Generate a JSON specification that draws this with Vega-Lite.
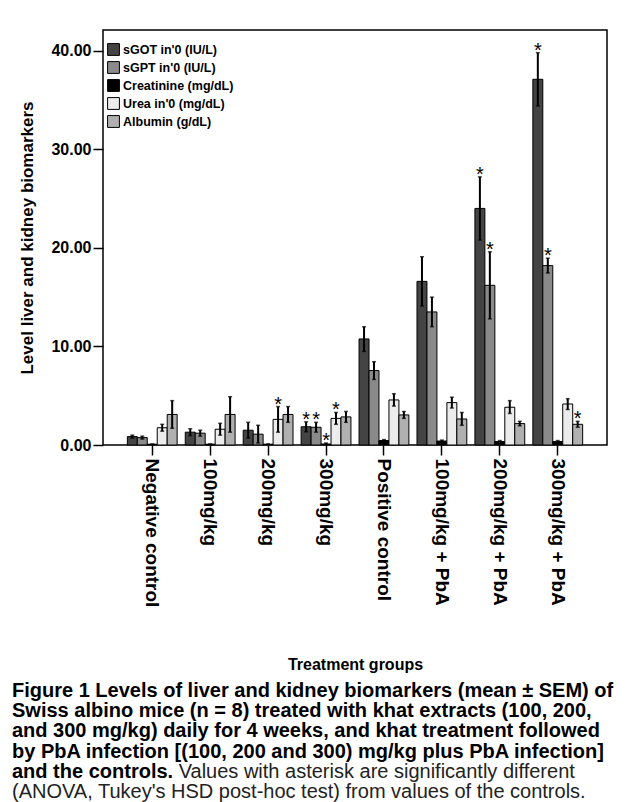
{
  "$schema": "https://vega.github.io/schema/vega-lite/v6.json",
  "width": 504,
  "height": 415,
  "autosize": {"type": "none"},
  "padding": {"left": 103, "top": 30, "right": 22, "bottom": 357},
  "background": "white",
  "config": {
    "view": {"stroke": "black", "strokeWidth": 1.5},
    "font": "Liberation Sans"
  },
  "title": {
    "text": [
      "Figure 1 Levels of liver and kidney biomarkers (mean ± SEM) of",
      "Swiss albino mice (n = 8) treated with khat extracts (100, 200,",
      "and 300 mg/kg) daily for 4 weeks, and khat treatment followed",
      "by PbA infection [(100, 200 and 300) mg/kg plus PbA infection]",
      "and the controls."
    ],
    "subtitle": [
      "\u200b\u00a0\u00a0\u00a0\u00a0\u00a0\u00a0\u00a0\u00a0\u00a0\u00a0\u00a0\u00a0\u00a0\u00a0\u00a0\u00a0\u00a0\u00a0\u00a0\u00a0\u00a0\u00a0\u00a0\u00a0\u00a0\u00a0\u00a0\u00a0\u00a0\u00a0Values with asterisk are significantly different",
      "(ANOVA, Tukey's HSD post-hoc test) from values of the controls."
    ],
    "orient": "bottom",
    "anchor": "start",
    "frame": "group",
    "dx": -91,
    "offset": 8,
    "font": "Liberation Sans",
    "fontSize": 20,
    "fontWeight": "bold",
    "lineHeight": 20.3,
    "color": "black",
    "subtitleFont": "Liberation Sans",
    "subtitleFontSize": 20,
    "subtitleFontWeight": "normal",
    "subtitleLineHeight": 20.3,
    "subtitleColor": "#222222",
    "subtitlePadding": -20
  },
  "data": {
    "values": [
      {"group": "Negative control", "marker": "sGOT in'0 (IU/L)", "v": 0.85, "lo": 0.7, "hi": 1.0, "sig": 0},
      {"group": "Negative control", "marker": "sGPT in'0 (IU/L)", "v": 0.75, "lo": 0.6, "hi": 0.9, "sig": 0},
      {"group": "Negative control", "marker": "Creatinine (mg/dL)", "v": 0.08, "lo": 0.06, "hi": 0.1, "sig": 0},
      {"group": "Negative control", "marker": "Urea in'0 (mg/dL)", "v": 1.75, "lo": 1.4, "hi": 2.1, "sig": 0},
      {"group": "Negative control", "marker": "Albumin (g/dL)", "v": 3.1, "lo": 1.7, "hi": 4.5, "sig": 0},
      {"group": "100mg/kg", "marker": "sGOT in'0 (IU/L)", "v": 1.3, "lo": 0.95, "hi": 1.65, "sig": 0},
      {"group": "100mg/kg", "marker": "sGPT in'0 (IU/L)", "v": 1.2, "lo": 0.9, "hi": 1.5, "sig": 0},
      {"group": "100mg/kg", "marker": "Creatinine (mg/dL)", "v": 0.08, "lo": 0.06, "hi": 0.1, "sig": 0},
      {"group": "100mg/kg", "marker": "Urea in'0 (mg/dL)", "v": 1.6, "lo": 1.0, "hi": 2.2, "sig": 0},
      {"group": "100mg/kg", "marker": "Albumin (g/dL)", "v": 3.1, "lo": 1.3, "hi": 4.9, "sig": 0},
      {"group": "200mg/kg", "marker": "sGOT in'0 (IU/L)", "v": 1.5, "lo": 0.7, "hi": 2.3, "sig": 0},
      {"group": "200mg/kg", "marker": "sGPT in'0 (IU/L)", "v": 1.1, "lo": 0.2, "hi": 2.0, "sig": 0},
      {"group": "200mg/kg", "marker": "Creatinine (mg/dL)", "v": 0.08, "lo": 0.06, "hi": 0.1, "sig": 0},
      {"group": "200mg/kg", "marker": "Urea in'0 (mg/dL)", "v": 2.6, "lo": 1.3, "hi": 3.9, "sig": 1},
      {"group": "200mg/kg", "marker": "Albumin (g/dL)", "v": 3.1, "lo": 2.3, "hi": 3.9, "sig": 0},
      {"group": "300mg/kg", "marker": "sGOT in'0 (IU/L)", "v": 1.85, "lo": 1.35, "hi": 2.35, "sig": 1},
      {"group": "300mg/kg", "marker": "sGPT in'0 (IU/L)", "v": 1.8, "lo": 1.3, "hi": 2.3, "sig": 1},
      {"group": "300mg/kg", "marker": "Creatinine (mg/dL)", "v": 0.1, "lo": 0.05, "hi": 0.2, "sig": 1},
      {"group": "300mg/kg", "marker": "Urea in'0 (mg/dL)", "v": 2.7, "lo": 2.1, "hi": 3.3, "sig": 1},
      {"group": "300mg/kg", "marker": "Albumin (g/dL)", "v": 2.85, "lo": 2.3, "hi": 3.4, "sig": 0},
      {"group": "Positive control", "marker": "sGOT in'0 (IU/L)", "v": 10.76, "lo": 9.5, "hi": 12.0, "sig": 0},
      {"group": "Positive control", "marker": "sGPT in'0 (IU/L)", "v": 7.55, "lo": 6.65, "hi": 8.45, "sig": 0},
      {"group": "Positive control", "marker": "Creatinine (mg/dL)", "v": 0.45, "lo": 0.35, "hi": 0.55, "sig": 0},
      {"group": "Positive control", "marker": "Urea in'0 (mg/dL)", "v": 4.57, "lo": 3.95, "hi": 5.2, "sig": 0},
      {"group": "Positive control", "marker": "Albumin (g/dL)", "v": 3.05, "lo": 2.7, "hi": 3.4, "sig": 0},
      {"group": "100mg/kg + PbA", "marker": "sGOT in'0 (IU/L)", "v": 16.6, "lo": 14.1, "hi": 19.1, "sig": 0},
      {"group": "100mg/kg + PbA", "marker": "sGPT in'0 (IU/L)", "v": 13.5, "lo": 12.0, "hi": 15.0, "sig": 0},
      {"group": "100mg/kg + PbA", "marker": "Creatinine (mg/dL)", "v": 0.4, "lo": 0.3, "hi": 0.5, "sig": 0},
      {"group": "100mg/kg + PbA", "marker": "Urea in'0 (mg/dL)", "v": 4.3, "lo": 3.75, "hi": 4.85, "sig": 0},
      {"group": "100mg/kg + PbA", "marker": "Albumin (g/dL)", "v": 2.64, "lo": 2.0, "hi": 3.3, "sig": 0},
      {"group": "200mg/kg + PbA", "marker": "sGOT in'0 (IU/L)", "v": 24.0, "lo": 20.8, "hi": 27.2, "sig": 1},
      {"group": "200mg/kg + PbA", "marker": "sGPT in'0 (IU/L)", "v": 16.2, "lo": 12.8, "hi": 19.6, "sig": 1},
      {"group": "200mg/kg + PbA", "marker": "Creatinine (mg/dL)", "v": 0.35, "lo": 0.25, "hi": 0.45, "sig": 0},
      {"group": "200mg/kg + PbA", "marker": "Urea in'0 (mg/dL)", "v": 3.83, "lo": 3.2, "hi": 4.5, "sig": 0},
      {"group": "200mg/kg + PbA", "marker": "Albumin (g/dL)", "v": 2.17, "lo": 1.95, "hi": 2.4, "sig": 0},
      {"group": "300mg/kg + PbA", "marker": "sGOT in'0 (IU/L)", "v": 37.1, "lo": 34.4, "hi": 39.8, "sig": 1},
      {"group": "300mg/kg + PbA", "marker": "sGPT in'0 (IU/L)", "v": 18.2, "lo": 17.45, "hi": 18.95, "sig": 1},
      {"group": "300mg/kg + PbA", "marker": "Creatinine (mg/dL)", "v": 0.35, "lo": 0.25, "hi": 0.45, "sig": 0},
      {"group": "300mg/kg + PbA", "marker": "Urea in'0 (mg/dL)", "v": 4.16, "lo": 3.6, "hi": 4.7, "sig": 0},
      {"group": "300mg/kg + PbA", "marker": "Albumin (g/dL)", "v": 2.1, "lo": 1.8, "hi": 2.4, "sig": 1}
    ]
  },
  "encoding": {
    "x": {
      "field": "group",
      "type": "nominal",
      "sort": ["Negative control", "100mg/kg", "200mg/kg", "300mg/kg", "Positive control", "100mg/kg + PbA", "200mg/kg + PbA", "300mg/kg + PbA"],
      "scale": {"paddingInner": 0.14, "paddingOuter": 0.42},
      "axis": {
        "title": "Treatment groups",
        "labelAngle": 90,
        "labelAlign": "left",
        "labelBaseline": "middle",
        "labelFont": "Liberation Sans",
        "labelFontWeight": "bold",
        "labelFontSize": 19,
        "labelColor": "black",
        "labelPadding": 3,
        "tickColor": "black",
        "tickSize": 10,
        "tickWidth": 1.5,
        "domain": false,
        "titleFont": "Liberation Sans",
        "titleFontSize": 16,
        "titleFontWeight": "bold",
        "titleColor": "black",
        "titlePadding": 50
      }
    },
    "xOffset": {
      "field": "marker",
      "type": "nominal",
      "sort": ["sGOT in'0 (IU/L)", "sGPT in'0 (IU/L)", "Creatinine (mg/dL)", "Urea in'0 (mg/dL)", "Albumin (g/dL)"],
      "scale": {"paddingInner": 0, "paddingOuter": 0}
    }
  },
  "layer": [
    {
      "mark": {"type": "bar", "stroke": "black", "strokeWidth": 1},
      "encoding": {
        "y": {
          "field": "v",
          "type": "quantitative",
          "scale": {"domain": [0, 42.1], "nice": false, "zero": true},
          "axis": {
            "title": "Level liver and kidney biomarkers",
            "values": [0, 10, 20, 30, 40],
            "format": ".2f",
            "grid": false,
            "domain": false,
            "tickColor": "black",
            "tickSize": 10,
            "tickWidth": 1.5,
            "labelFont": "Liberation Sans",
            "labelFontWeight": "bold",
            "labelFontSize": 16,
            "labelColor": "black",
            "labelPadding": 2,
            "titleFont": "Liberation Sans",
            "titleFontSize": 17,
            "titleFontWeight": "bold",
            "titleColor": "black",
            "titlePadding": 14
          }
        },
        "fill": {
          "field": "marker",
          "type": "nominal",
          "scale": {
            "domain": ["sGOT in'0 (IU/L)", "sGPT in'0 (IU/L)", "Creatinine (mg/dL)", "Urea in'0 (mg/dL)", "Albumin (g/dL)"],
            "range": ["#444444", "#8a8a8a", "#000000", "#ececec", "#b0b0b0"]
          },
          "legend": {
            "title": null,
            "orient": "none",
            "legendX": 4,
            "legendY": 13,
            "symbolType": "square",
            "symbolSize": 140,
            "symbolStrokeColor": "black",
            "symbolStrokeWidth": 1,
            "symbolOpacity": 1,
            "labelFont": "Liberation Sans",
            "labelFontWeight": "bold",
            "labelFontSize": 12.5,
            "labelColor": "black",
            "labelOffset": 3,
            "rowPadding": 1,
            "padding": 0
          }
        }
      }
    },
    {
      "mark": {"type": "rule", "color": "black", "strokeWidth": 2},
      "encoding": {
        "y": {"field": "lo", "type": "quantitative"},
        "y2": {"field": "hi"}
      }
    },
    {
      "mark": {"type": "tick", "color": "black", "size": 4, "thickness": 1.5},
      "encoding": {
        "y": {"field": "hi", "type": "quantitative"}
      }
    },
    {
      "mark": {"type": "tick", "color": "black", "size": 4, "thickness": 1.5},
      "encoding": {
        "y": {"field": "lo", "type": "quantitative"}
      }
    },
    {
      "transform": [{"filter": "datum.sig == 1"}],
      "mark": {"type": "text", "text": "*", "font": "Liberation Sans", "fontSize": 20, "baseline": "middle", "dy": -2, "fill": "#000000", "color": "#000000", "opacity": 1},
      "encoding": {
        "y": {"field": "hi", "type": "quantitative"}
      }
    }
  ]
}
